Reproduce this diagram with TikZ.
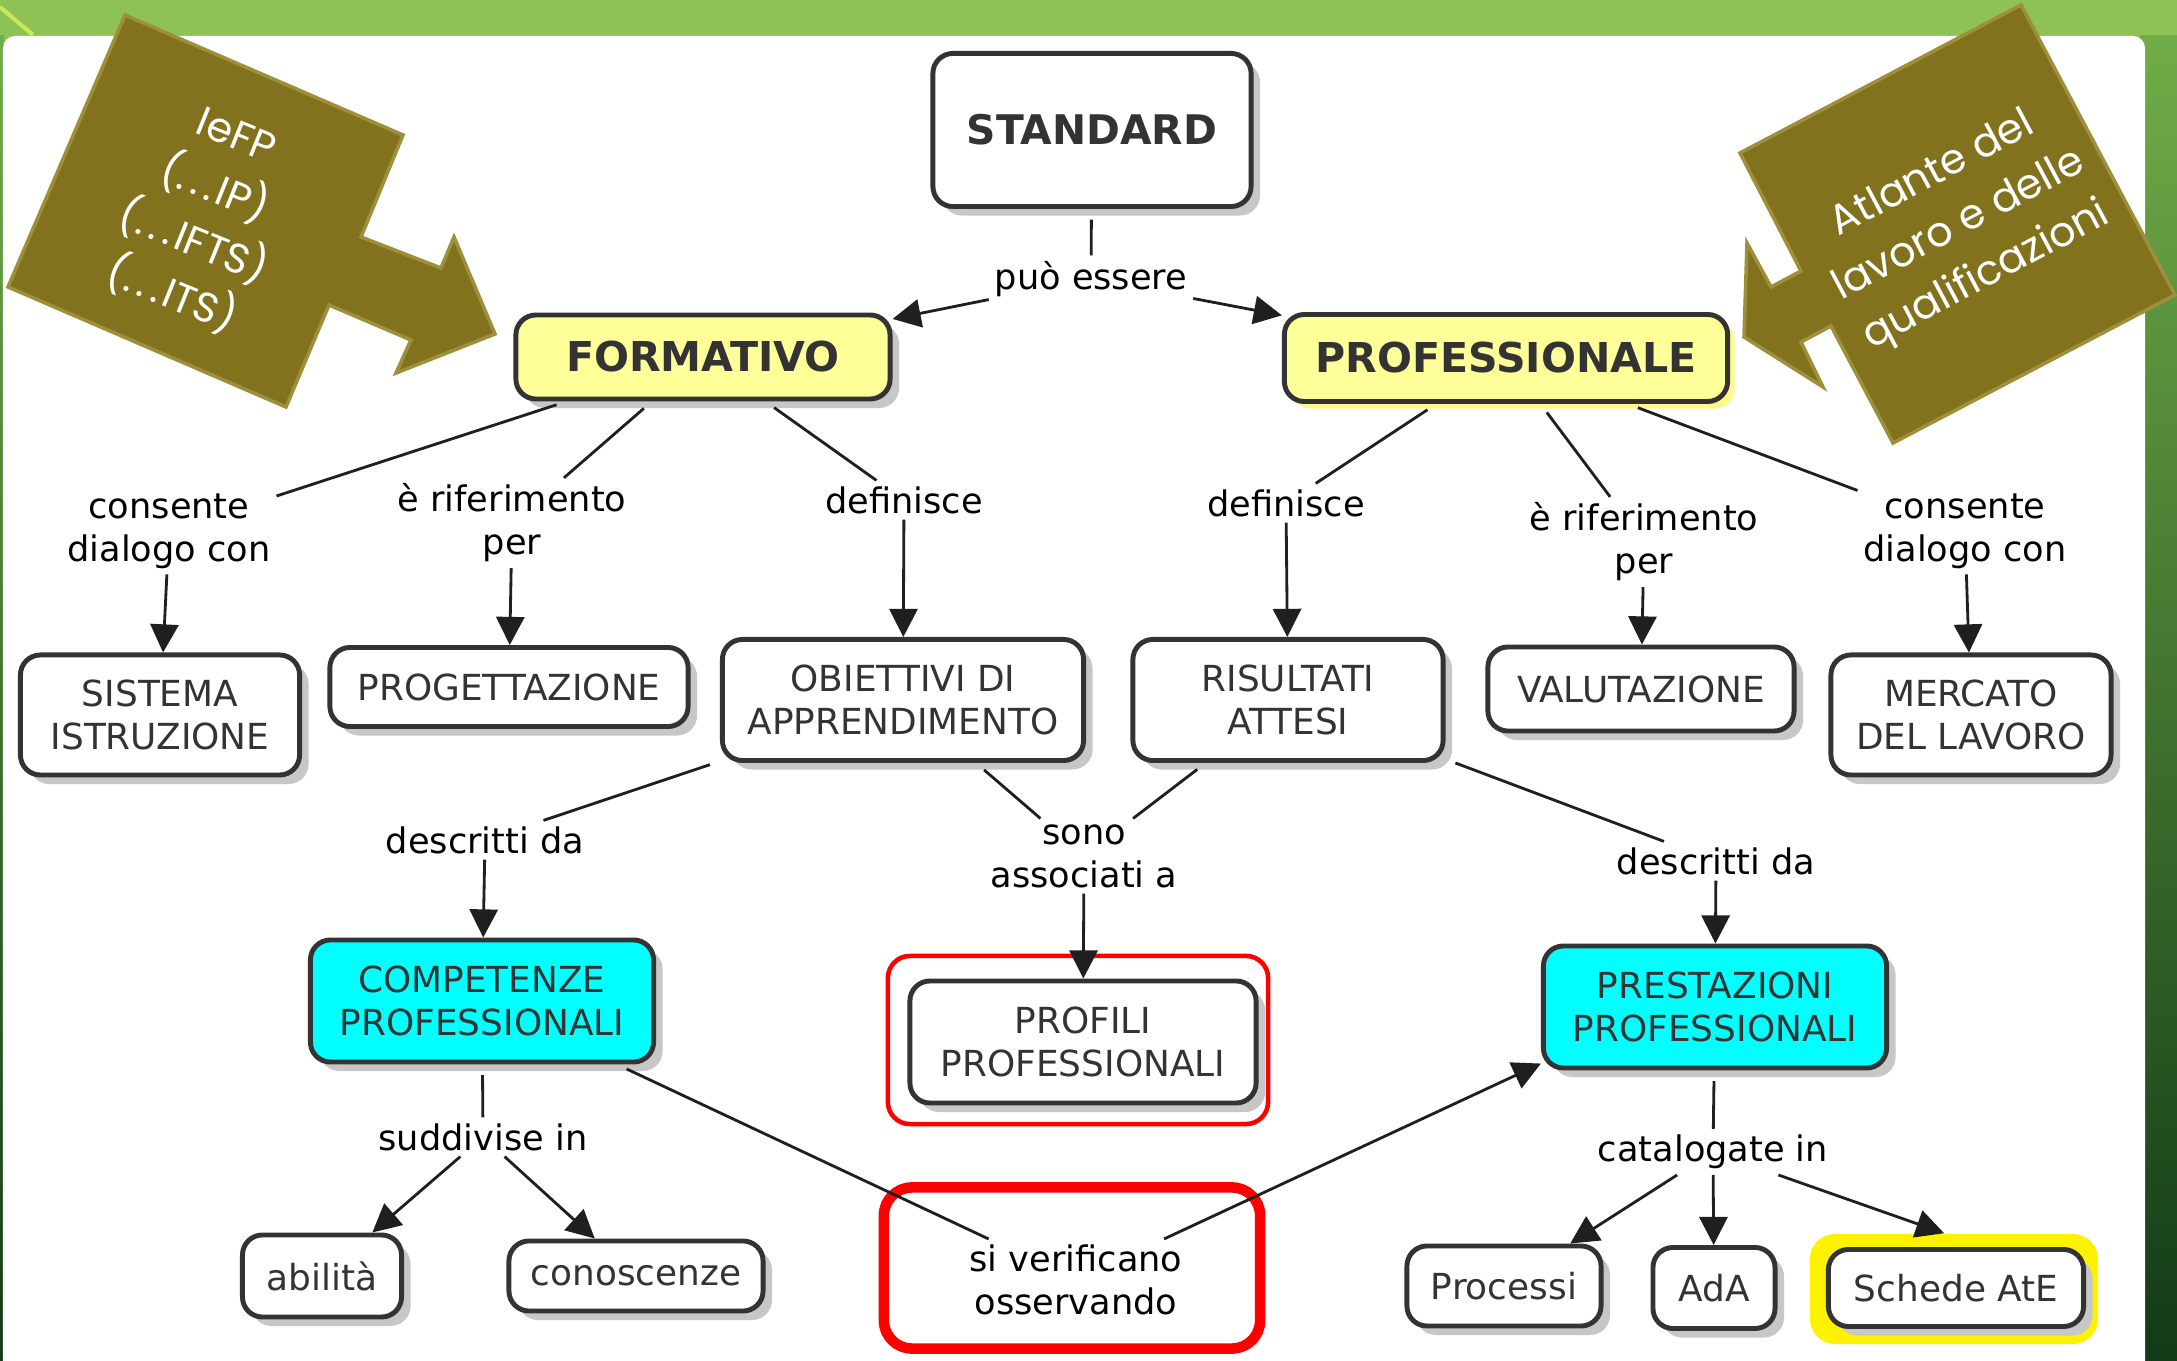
\documentclass[tikz,border=0pt]{standalone}
\usepackage{fontspec}
\setmainfont{DejaVu Sans}
\newfontfamily\olivefont{Poppins}
\usetikzlibrary{arrows.meta,shadows}

\definecolor{bandgreen}{RGB}{142,194,84}
\definecolor{stripgreen}{RGB}{112,172,72}
\definecolor{darkgreen}{RGB}{18,58,22}
\definecolor{limegreen}{RGB}{200,232,90}
\definecolor{olive}{RGB}{131,114,29}
\definecolor{oliveedge}{RGB}{158,144,58}
\definecolor{boxtext}{RGB}{51,51,51}
\definecolor{paleyellow}{RGB}{255,255,153}
\definecolor{cmapcyan}{RGB}{0,255,255}

\newcommand{\dotsgap}{.\hspace{0.14em}.\hspace{0.14em}.\hspace{0.08em}}

\tikzset{
  cbox/.style={draw=boxtext, line width=1.4pt, rounded corners=0.2cm, fill=white,
    text=boxtext, align=center, inner sep=0pt,
    font=\fontsize{10.2}{12.4}\selectfont},
  grayshadow/.style={drop shadow={shadow xshift=0.09cm, shadow yshift=-0.09cm,
    fill=black!22, opacity=1}},
  concept/.style={cbox, grayshadow},
  keyconcept/.style={cbox, fill=paleyellow, font=\bfseries\fontsize{11.7}{14}\selectfont},
  cyanconcept/.style={concept, fill=cmapcyan},
  linkphrase/.style={align=center, inner sep=1.5pt, text=black,
    font=\fontsize{10}{12.2}\selectfont},
  conn/.style={draw=black!88, line width=0.8pt, shorten <=3pt},
  connarrow/.style={draw=black!88, line width=0.8pt,
    -{Triangle[length=8pt,width=8pt]}},
  olivecallout/.style={fill=olive, draw=oliveedge, line width=1pt, line join=miter},
  olivetext/.style={text=white, align=center, inner sep=0pt,
    font=\olivefont\fontsize{11.8}{16.3}\selectfont},
}

\begin{document}
\begin{tikzpicture}[x=0.01cm,y=-0.01cm]
\useasboundingbox (0,0) rectangle (2177,1361);

% slide background
\fill[bandgreen] (0,0) rectangle (2177,1361);
\shade[top color=stripgreen, bottom color=darkgreen] (2140,36) rectangle (2177,1361);
\shade[top color=stripgreen, bottom color=darkgreen] (0,36) rectangle (4,1361);
\fill[white, rounded corners=0.12cm] (3,36) rectangle (2145,1400);
\draw[limegreen, line width=1.2pt] (0,7) -- (33,35);

% olive callouts
\filldraw[olivecallout] (125,15) -- (403,135) -- (361,237) -- (441,268) -- (454,237)
  -- (495,334) -- (396,373) -- (411,340) -- (329,305) -- (286,407) -- (8,287) -- cycle;
\node[olivetext, rotate=-22] (iefp) at (203,218)
  {IeFP\\(\dotsgap IP)\\(\dotsgap IFTS)\\(\dotsgap ITS)};

\filldraw[olivecallout] (2021,5) -- (2175,295) -- (1893,443) -- (1831,326) -- (1801,342)
  -- (1823,387) -- (1744,337) -- (1747,243) -- (1771,287) -- (1801,271) -- (1740,153) -- cycle;
\node[olivetext, rotate=28] (atlante) at (1960,226) {Atlante del\\lavoro e delle\\qualificazioni};

% highlights
\node[draw=red, line width=1.3pt, rounded corners=0.22cm, minimum width=3.8cm,
  minimum height=1.68cm] (profilihl) at (1078,1040) {};
\node[draw=red, line width=3pt, rounded corners=0.28cm, minimum width=3.76cm,
  minimum height=1.61cm] (verificahl) at (1072,1268) {};
\node[fill=yellow, rounded corners=0.25cm, minimum width=2.88cm,
  minimum height=1.1cm] (schedehl) at (1954,1289) {};

% concepts
\node[concept, font=\bfseries\fontsize{11.6}{14}\selectfont, minimum width=3.18cm,
  minimum height=1.53cm] (standard) at (1092,130) {STANDARD};
\node[keyconcept, grayshadow, minimum width=3.74cm, minimum height=0.84cm] (formativo) at (703,357) {FORMATIVO};
\node[keyconcept, minimum width=4.43cm, minimum height=0.87cm,
  drop shadow={shadow xshift=0.07cm, shadow yshift=-0.07cm, fill=yellow!45, opacity=1}]
  (professionale) at (1506,358) {PROFESSIONALE};

\node[concept, minimum width=2.79cm, minimum height=1.2cm] (sistema) at (160,715) {SISTEMA\\ISTRUZIONE};
\node[concept, minimum width=3.58cm, minimum height=0.79cm] (progettazione) at (509,687) {PROGETTAZIONE};
\node[concept, minimum width=3.61cm, minimum height=1.21cm] (obiettivi) at (903,700) {OBIETTIVI DI\\APPRENDIMENTO};
\node[concept, minimum width=3.1cm, minimum height=1.21cm] (risultati) at (1288,700) {RISULTATI\\ATTESI};
\node[concept, minimum width=3.06cm, minimum height=0.84cm] (valutazione) at (1641,689) {VALUTAZIONE};
\node[concept, minimum width=2.8cm, minimum height=1.2cm] (mercato) at (1971,715) {MERCATO\\DEL LAVORO};

\node[cyanconcept, minimum width=3.43cm, minimum height=1.22cm] (competenze) at (482,1001) {COMPETENZE\\PROFESSIONALI};
\node[concept, minimum width=3.46cm, minimum height=1.22cm] (profili) at (1083,1042) {PROFILI\\PROFESSIONALI};
\node[cyanconcept, minimum width=3.43cm, minimum height=1.22cm] (prestazioni) at (1715,1007) {PRESTAZIONI\\PROFESSIONALI};

\node[concept, minimum width=1.59cm, minimum height=0.82cm] (abilita) at (322,1276) {abilità};
\node[concept, minimum width=2.54cm, minimum height=0.7cm] (conoscenze) at (636,1276) {conoscenze};
\node[concept, minimum width=1.94cm, minimum height=0.8cm] (processi) at (1504,1286) {Processi};
\node[concept, minimum width=1.22cm, minimum height=0.81cm] (ada) at (1714,1288) {AdA};
\node[concept, minimum width=2.55cm, minimum height=0.77cm] (schede) at (1956,1288) {Schede AtE};

% linking phrases
\node[linkphrase] (puo) at (1091,279) {può essere};
\node[linkphrase] (consL) at (169,531) {consente\\dialogo con};
\node[linkphrase] (rifL) at (512,523) {è riferimento\\per};
\node[linkphrase] (defL) at (904,500) {definisce};
\node[linkphrase] (defR) at (1286,503) {definisce};
\node[linkphrase] (rifR) at (1644,542) {è riferimento\\per};
\node[linkphrase] (consR) at (1965,531) {consente\\dialogo con};
\node[linkphrase] (descrL) at (485,840) {descritti da};
\node[linkphrase] (sono) at (1084,856) {sono\\associati a};
\node[linkphrase] (descrR) at (1716,861) {descritti da};
\node[linkphrase] (suddivise) at (483,1137) {suddivise in};
\node[linkphrase] (catalogate) at (1713,1152) {catalogate in};
\node[linkphrase] (verifica) at (1076,1280) {si verificano\\osservando};

% concept -> phrase
\foreach \from/\to in {standard/puo, formativo/consL, formativo/rifL, formativo/defL,
  professionale/defR, professionale/rifR, professionale/consR,
  obiettivi/descrL, obiettivi/sono, risultati/sono, risultati/descrR,
  competenze/suddivise, competenze/verifica, prestazioni/catalogate}
  \draw[conn] (\from) -- (\to);

% phrase -> concept
\foreach \from/\to in {puo/formativo, puo/professionale, consL/sistema, rifL/progettazione,
  defL/obiettivi, defR/risultati, rifR/valutazione, consR/mercato,
  descrL/competenze, sono/profili, descrR/prestazioni, suddivise/abilita,
  suddivise/conoscenze, catalogate/processi, catalogate/ada, catalogate/schedehl.100,
  verifica/prestazioni.198}
  \draw[connarrow] (\from) -- (\to);
\end{tikzpicture}
\end{document}
